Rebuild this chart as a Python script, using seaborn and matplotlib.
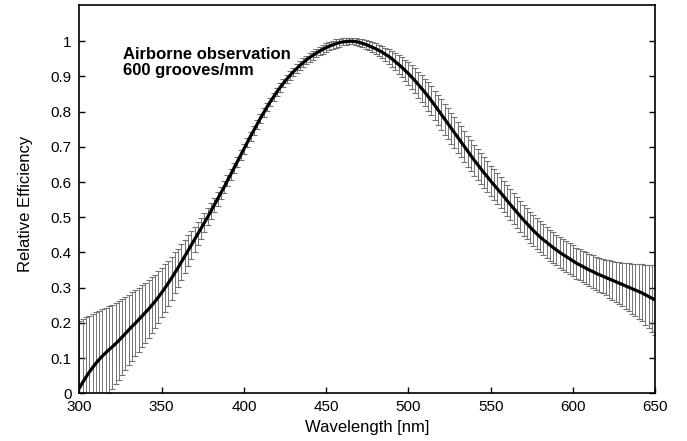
import numpy as np
import pandas as pd
import matplotlib
matplotlib.use("Agg")
import matplotlib.pyplot as plt
import seaborn as sns

# Wavelength grid (nm), one sample every 2 nm
wavelength = np.arange(300, 651, 2)

# Relative efficiency
efficiency = [
    0.015, 0.031, 0.046, 0.060, 0.073, 0.085, 0.096, 0.106, 0.115, 0.124,
    0.132, 0.141, 0.150, 0.160, 0.170, 0.180, 0.190, 0.199, 0.209, 0.219,
    0.229, 0.239, 0.250, 0.261, 0.273, 0.286, 0.299, 0.313, 0.327, 0.342,
    0.357, 0.373, 0.389, 0.405, 0.421, 0.437, 0.453, 0.469, 0.485, 0.501,
    0.518, 0.535, 0.552, 0.569, 0.586, 0.604, 0.622, 0.640, 0.658, 0.676,
    0.694, 0.712, 0.730, 0.747, 0.764, 0.781, 0.797, 0.813, 0.828, 0.842,
    0.856, 0.869, 0.881, 0.892, 0.903, 0.913, 0.922, 0.931, 0.939, 0.947,
    0.954, 0.960, 0.966, 0.972, 0.977, 0.982, 0.986, 0.990, 0.993, 0.996,
    0.998, 0.999, 1.000, 1.000, 0.999, 0.997, 0.994, 0.991, 0.987, 0.983,
    0.979, 0.974, 0.969, 0.963, 0.957, 0.950, 0.942, 0.934, 0.926, 0.917,
    0.908, 0.898, 0.888, 0.877, 0.866, 0.855, 0.843, 0.831, 0.818, 0.805,
    0.792, 0.779, 0.766, 0.753, 0.740, 0.727, 0.714, 0.701, 0.688, 0.675,
    0.662, 0.650, 0.638, 0.626, 0.615, 0.603, 0.592, 0.581, 0.570, 0.559,
    0.547, 0.536, 0.525, 0.514, 0.503, 0.492, 0.482, 0.472, 0.462, 0.453,
    0.444, 0.436, 0.429, 0.421, 0.414, 0.407, 0.400, 0.394, 0.388, 0.382,
    0.376, 0.370, 0.365, 0.360, 0.355, 0.350, 0.346, 0.341, 0.337, 0.333,
    0.329, 0.325, 0.321, 0.317, 0.313, 0.309, 0.305, 0.301, 0.297, 0.293,
    0.289, 0.285, 0.280, 0.275, 0.270, 0.265,
]

# Half-height of the error bars
error = [
    0.190, 0.180, 0.170, 0.160, 0.152, 0.145, 0.139, 0.133, 0.128, 0.124,
    0.120, 0.116, 0.112, 0.108, 0.104, 0.100, 0.097, 0.094, 0.091, 0.088,
    0.085, 0.082, 0.079, 0.076, 0.073, 0.070, 0.067, 0.064, 0.061, 0.058,
    0.054, 0.051, 0.047, 0.044, 0.040, 0.036, 0.033, 0.030, 0.027, 0.024,
    0.022, 0.020, 0.019, 0.018, 0.017, 0.016, 0.015, 0.015, 0.014, 0.014,
    0.013, 0.012, 0.012, 0.012, 0.012, 0.012, 0.012, 0.012, 0.012, 0.012,
    0.012, 0.012, 0.012, 0.012, 0.012, 0.012, 0.012, 0.012, 0.012, 0.012,
    0.012, 0.012, 0.012, 0.012, 0.012, 0.012, 0.012, 0.012, 0.012, 0.011,
    0.010, 0.009, 0.008, 0.008, 0.009, 0.010, 0.011, 0.012, 0.013, 0.014,
    0.015, 0.016, 0.018, 0.019, 0.021, 0.022, 0.024, 0.026, 0.028, 0.030,
    0.032, 0.034, 0.035, 0.037, 0.038, 0.039, 0.040, 0.041, 0.042, 0.043,
    0.043, 0.044, 0.044, 0.044, 0.044, 0.044, 0.044, 0.044, 0.044, 0.044,
    0.044, 0.044, 0.044, 0.044, 0.044, 0.044, 0.044, 0.044, 0.044, 0.044,
    0.044, 0.044, 0.044, 0.044, 0.044, 0.044, 0.044, 0.044, 0.044, 0.044,
    0.044, 0.044, 0.044, 0.044, 0.044, 0.044, 0.044, 0.044, 0.044, 0.044,
    0.044, 0.044, 0.044, 0.044, 0.045, 0.045, 0.046, 0.047, 0.048, 0.049,
    0.051, 0.053, 0.055, 0.057, 0.060, 0.062, 0.065, 0.068, 0.071, 0.074,
    0.077, 0.081, 0.085, 0.090, 0.095, 0.100,
]

x_ticks = [300, 350, 400, 450, 500, 550, 600, 650]
x_tick_labels = ["300", "350", "400", "450", "500", "550", "600", "650"]
y_ticks = [0, 0.1, 0.2, 0.3, 0.4, 0.5, 0.6, 0.7, 0.8, 0.9, 1.0]
y_tick_labels = ["0", "0.1", "0.2", "0.3", "0.4", "0.5", "0.6", "0.7", "0.8", "0.9", "1"]

df = pd.DataFrame({"wavelength": wavelength, "efficiency": efficiency, "error": error})

sns.set_theme(style="white")
plt.rcParams["font.family"] = ["Liberation Sans", "DejaVu Sans"]

fig = plt.figure(figsize=(6.87, 4.41), dpi=100)
ax = fig.add_axes([0.1156, 0.1082, 0.8381, 0.8805])

ax.errorbar(df["wavelength"], df["efficiency"], yerr=df["error"], fmt="none",
            ecolor="0.45", elinewidth=0.7, capsize=1.9, capthick=0.8,
            zorder=2)
# make caps black
for coll in ax.containers:
    for cap in coll.lines[1]:
        cap.set_color("black")

sns.lineplot(data=df, x="wavelength", y="efficiency", color="black",
             linewidth=2.3, ax=ax, zorder=3)

ax.set_xlim(300, 650)
ax.set_ylim(0, 1.103)
ax.set_xticks(x_ticks)
ax.set_xticklabels(x_tick_labels)
ax.set_yticks(y_ticks)
ax.set_yticklabels(y_tick_labels)

ax.tick_params(axis="both", which="both", direction="in", length=4,
               width=1.0, color="black", labelsize=11, labelcolor="black")
ax.tick_params(axis="y", right=True, left=True, pad=5.5)
ax.tick_params(axis="x", bottom=True, top=False, pad=5)

for s in ax.spines.values():
    s.set_color("black")
    s.set_linewidth(1.2)
    s.set_visible(True)

ax.set_xlabel("Wavelength [nm]", fontsize=12, color="black")
ax.set_ylabel("Relative Efficiency", fontsize=12, color="black")
ax.xaxis.set_label_coords(0.5, -0.07)
ax.yaxis.set_label_coords(-0.081, 0.487)

ax.text(326.5, 0.985, "Airborne observation\n600 grooves/mm", fontsize=12,
        fontweight="bold", color="black", ha="left", va="top",
        linespacing=1.1)

ax.grid(False)
fig.savefig("out.png", dpi=100)
